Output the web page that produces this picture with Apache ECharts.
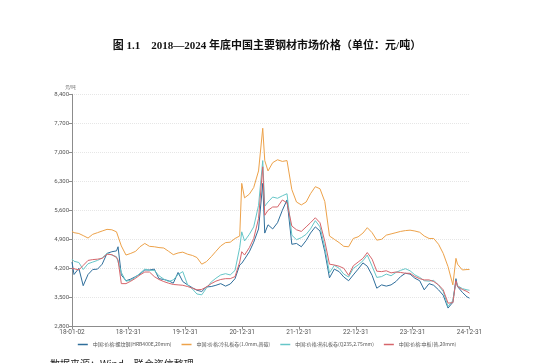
<!DOCTYPE html>
<html>
<head>
<meta charset="utf-8">
<script src="https://cdn.jsdelivr.net/npm/echarts@6/dist/echarts.min.js"></script>
<style>
html,body{margin:0;padding:0;background:#fff;}
#c{width:534px;height:363px;}
</style>
</head>
<body>
<div id="c"></div>
<script>
const titleText = '图 1.1    2018—2024 年底中国主要钢材市场价格（单位：元/吨）';
const sourceText = '数据来源：Wind，联合资信整理';
const seriesNames = ['中国:价格:螺纹钢(HRB400E,20mm)', '中国:价格:冷轧板卷(1.0mm,普碳)', '中国:价格:热轧板卷(Q235,2.75mm)', '中国:价格:中板(普,20mm)'];
const tickLabels = ['18-01-02', '18-12-31', '19-12-31', '20-12-31', '21-12-31', '22-12-31', '23-12-31', '24-12-31'];
const yTicks = [2800, 3500, 4200, 4900, 5600, 6300, 7000, 7700, 8400];

const dates = [
'2018-01-02','2018-01-15','2018-02-15','2018-03-15','2018-04-15','2018-05-15','2018-06-15','2018-07-15','2018-08-15','2018-09-15','2018-10-15','2018-10-25','2018-11-15','2018-12-15',
'2019-01-15','2019-02-15','2019-03-15','2019-04-15','2019-05-15','2019-06-15','2019-07-15','2019-08-15','2019-09-15','2019-10-15','2019-11-15','2019-12-15',
'2020-01-15','2020-02-15','2020-03-15','2020-04-15','2020-05-15','2020-06-15','2020-07-15','2020-08-15','2020-09-15','2020-10-15','2020-11-15','2020-12-15','2020-12-28',
'2021-01-15','2021-02-15','2021-03-15','2021-04-15','2021-05-12','2021-05-25','2021-06-15','2021-07-15','2021-08-15','2021-09-15','2021-10-15','2021-11-15','2021-12-15',
'2022-01-15','2022-02-15','2022-03-15','2022-04-15','2022-05-15','2022-06-15','2022-07-15','2022-08-15','2022-09-15','2022-10-15','2022-11-15','2022-12-15',
'2023-01-15','2023-02-15','2023-03-15','2023-04-15','2023-05-15','2023-06-15','2023-07-15','2023-08-15','2023-09-15','2023-10-15','2023-11-15','2023-12-15',
'2024-01-15','2024-02-15','2024-03-15','2024-04-15','2024-05-15','2024-06-15','2024-07-15','2024-08-15','2024-09-15','2024-10-05','2024-10-15','2024-11-15','2024-12-15','2024-12-31'
];

const rebar = [
4350,4050,4200,3780,4050,4170,4180,4300,4560,4600,4620,4720,4040,3900,
3940,4000,4060,4160,4160,4180,3950,3930,3900,3840,4100,3880,
3800,3730,3670,3640,3750,3760,3790,3830,3770,3820,3950,4280,4320,
4420,4600,4830,5150,6250,5050,5250,5150,5300,5600,5850,4780,4800,
4720,4870,5050,5200,5100,4600,3970,4180,4120,3990,3900,4040,
4180,4330,4250,4030,3720,3800,3770,3800,3880,4000,4080,4060,
3960,3900,3680,3830,3790,3680,3550,3240,3380,3950,3760,3620,3510,3480
];
const coldRolled = [
5090,5060,5040,4990,4930,5020,5060,5100,5140,5130,5080,5070,4740,4520,
4560,4610,4720,4800,4730,4720,4700,4690,4610,4530,4570,4590,
4540,4510,4460,4300,4360,4480,4610,4740,4820,4830,4920,4980,6250,
5900,5990,6150,6550,7580,6800,6550,6750,6820,6780,6800,6100,5800,
5730,5800,6000,6170,6120,5810,4980,4900,4820,4730,4720,4920,
4960,5050,5180,5060,4880,4900,5000,5030,5060,5090,5110,5120,
5100,5070,4980,4920,4920,4780,4560,4240,3800,4440,4300,4160,4170,4170
];
const hotRolled = [
4420,4370,4340,4170,4310,4350,4390,4450,4560,4520,4480,4470,4100,3890,
3910,3990,4080,4180,4150,4150,4020,3940,3880,3920,4050,4120,
3800,3700,3580,3560,3720,3870,3960,4040,4070,4040,4150,4700,5080,
4860,5020,5200,5720,6800,5700,5800,5920,5890,5950,6000,5000,4890,
4940,5020,5150,5350,5200,4700,4090,4270,4200,4060,3990,4200,
4280,4380,4520,4250,3980,4000,4060,4020,4100,4150,4190,4140,
4040,3980,3900,3890,3910,3790,3640,3280,3420,3870,3780,3710,3680,3670
];
const plate = [
4200,4190,4160,4270,4390,4410,4420,4440,4540,4530,4460,4400,3830,3830,
3890,3960,4040,4110,4110,4000,3930,3880,3840,3810,3800,3790,
3760,3720,3680,3690,3750,3830,3890,3930,3950,3950,4000,4350,4600,
4520,4700,4920,5400,6650,5480,5600,5680,5680,5850,5780,5220,5130,
5090,5200,5300,5420,5300,4850,4300,4280,4250,4200,4030,4260,
4350,4440,4580,4420,4130,4120,4140,4090,4110,4100,4080,4080,
4000,3950,3920,3920,3880,3800,3680,3360,3370,3900,3760,3690,3640,3600
];
const colors = ['#2f6e9b', '#eda24a', '#66c6c8', '#d6656b'];
const seriesValues = [rebar, coldRolled, hotRolled, plate];

// daily category axis
const cats = [];
(function(){
  let t = Date.UTC(2018,0,2);
  const end = Date.UTC(2024,11,31);
  while (t <= end) {
    const d = new Date(t);
    const s = String(d.getUTCFullYear()).slice(2) + '-' + String(d.getUTCMonth()+1).padStart(2,'0') + '-' + String(d.getUTCDate()).padStart(2,'0');
    cats.push(s);
    t += 86400000;
  }
})();
const labelSet = new Set(tickLabels);

const chart = echarts.init(document.getElementById('c'), null, {renderer:'canvas'});
chart.setOption({
  backgroundColor: '#fff',
  animation: false,
  title: {
    text: titleText,
    left: 'center',
    top: 36,
    textStyle: {fontFamily: "'Liberation Serif','Noto Sans CJK SC'", fontWeight: 'bold', fontSize: 11, color: '#111'}
  },
  graphic: [{
    type: 'text', left: 50, top: 359,
    style: {text: sourceText, fontSize: 10, fill: '#222', fontFamily: "'Noto Sans CJK SC'"}
  }],
  legend: {
    bottom: 11,
    left: 'center',
    itemWidth: 10,
    itemHeight: 1.5,
    itemGap: 10,
    icon: 'rect',
    textStyle: {fontSize: 5, color: '#555', fontFamily: "'Noto Sans CJK SC'"},
    data: seriesNames
  },
  grid: {left: 72, right: 64.5, top: 94.3, bottom: 36.7},
  xAxis: {
    type: 'category',
    data: cats,
    boundaryGap: false,
    axisLine: {lineStyle: {color: '#8c8c8c', width: 1}},
    axisTick: {show: true, length: 3, lineStyle: {color: '#8c8c8c'}, interval: (i, v) => labelSet.has(v)},
    axisLabel: {interval: (i, v) => labelSet.has(v), fontSize: 6.5, color: '#555', margin: 3, fontFamily: 'Roboto'},
    splitLine: {show: false}
  },
  yAxis: {
    type: 'value',
    min: yTicks[0],
    max: yTicks[yTicks.length-1],
    interval: 700,
    name: '元/吨',
    nameLocation: 'end',
    nameGap: 4,
    nameTextStyle: {fontSize: 5, color: '#666', align: 'right', padding: [0, -4, 0, 0]},
    axisLine: {show: true, lineStyle: {color: '#8c8c8c', width: 1}},
    axisTick: {show: true, length: 3, lineStyle: {color: '#8c8c8c'}},
    axisLabel: {fontSize: 6, color: '#555', margin: 3, fontFamily: 'Roboto',
      formatter: v => v.toLocaleString('en-US')},
    splitLine: {show: true, lineStyle: {color: '#e6e6e6', type: 'dotted', width: 1}}
  },
  series: seriesNames.map((n, k) => ({
    name: n,
    type: 'line',
    symbol: 'none',
    color: colors[k],
    lineStyle: {width: 1, color: colors[k]},
    data: dates.map((d, i) => [d.slice(2), seriesValues[k][i]])
  }))
});
</script>
</body>
</html>
